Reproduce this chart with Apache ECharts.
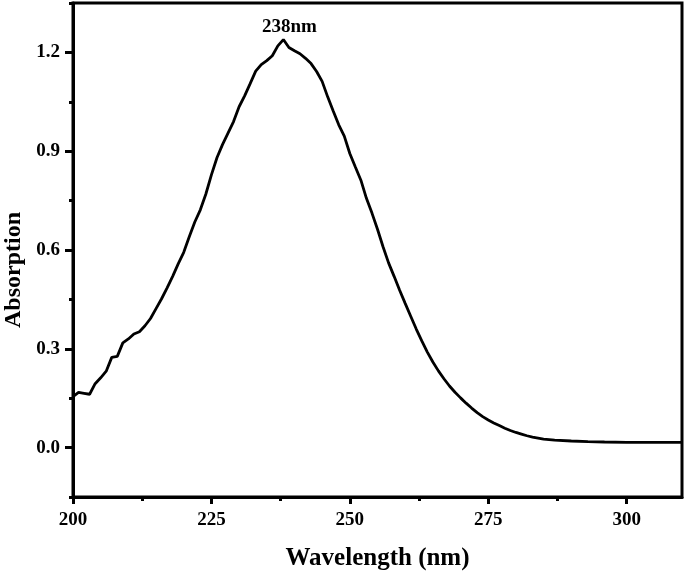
<!DOCTYPE html>
<html>
<head>
<meta charset="utf-8">
<script src="https://cdn.jsdelivr.net/npm/echarts@6/dist/echarts.min.js"></script>
<style>html,body{margin:0;padding:0;background:#fff}#c{width:685px;height:574px}</style>
</head>
<body>
<div id="c"></div>
<script>
const wavelength = [200,201,202,203,204,205,206,207,208,209,210,211,212,213,214,215,216,217,218,219,220,221,222,223,224,225,226,227,228,229,230,231,232,233,234,235,236,237,238,239,240,241,242,243,244,245,246,247,248,249,250,251,252,253,254,255,256,257,258,259,260,261,262,263,264,265,266,267,268,269,270,271,272,273,274,275,276,277,278,279,280,281,282,283,284,285,287,290,293,296,300,305,310];
const absorption = [0.155,0.168,0.165,0.162,0.194,0.212,0.232,0.274,0.277,0.318,0.330,0.345,0.352,0.370,0.392,0.422,0.452,0.485,0.520,0.558,0.593,0.640,0.685,0.722,0.770,0.828,0.880,0.920,0.955,0.990,1.035,1.068,1.105,1.143,1.163,1.175,1.190,1.220,1.239,1.215,1.205,1.196,1.182,1.166,1.142,1.112,1.065,1.022,0.980,0.946,0.893,0.852,0.812,0.757,0.712,0.663,0.610,0.561,0.520,0.478,0.438,0.399,0.360,0.324,0.290,0.260,0.233,0.209,0.187,0.168,0.151,0.135,0.120,0.106,0.094,0.084,0.075,0.067,0.059,0.052,0.046,0.041,0.036,0.032,0.029,0.026,0.023,0.020,0.018,0.017,0.016,0.016,0.016];
const xMajorTicks = [200,225,250,275,300];
const xMinorTicks = [212.5,237.5,262.5,287.5];
const yMajorTicks = [0,0.3,0.6,0.9,1.2];
const yMinorTicks = [-0.15,0.15,0.45,0.75,1.05,1.35];
const peakLabel = '238nm';
const peakIndex = absorption.indexOf(Math.max(...absorption));

const FONT = '"Liberation Serif", "Times New Roman", serif';
const chart = echarts.init(document.getElementById('c'), null, {renderer:'canvas'});
const axisBase = {
  type:'value', min:200, max:310
};
chart.setOption({
  animation:false,
  backgroundColor:'#fff',
  grid:{left:73, right:3, top:3, bottom:77, show:true, borderColor:'#000', borderWidth:3, backgroundColor:'transparent', containLabel:false, outerBoundsMode:'none'},
  xAxis:[
    Object.assign({}, axisBase, {
      position:'bottom',
      name:'Wavelength (nm)', nameLocation:'middle', nameGap:49,
      nameTextStyle:{fontFamily:FONT, fontWeight:'bold', fontSize:25, color:'#000'},
      axisLine:{show:true, onZero:false, lineStyle:{color:'#000', width:3}},
      axisTick:{show:true, length:7, lineStyle:{color:'#000', width:3}, customValues:xMajorTicks},
      axisLabel:{fontFamily:FONT, fontWeight:'bold', fontSize:19, color:'#000', margin:14, customValues:xMajorTicks},
      splitLine:{show:false}
    }),
    Object.assign({}, axisBase, {
      position:'bottom',
      axisLine:{show:false, onZero:false},
      axisTick:{show:true, length:4, lineStyle:{color:'#000', width:3}, customValues:xMinorTicks},
      axisLabel:{show:false},
      splitLine:{show:false}
    })
  ],
  yAxis:[
    {
      type:'value', min:-0.15, max:1.35, position:'left',
      name:'Absorption', nameLocation:'middle', nameGap:45,
      nameTextStyle:{fontFamily:FONT, fontWeight:'bold', fontSize:24, color:'#000', padding:[0,40,0,0]},
      axisLine:{show:true, onZero:false, lineStyle:{color:'#000', width:3}},
      axisTick:{show:true, length:8, lineStyle:{color:'#000', width:3}, customValues:yMajorTicks},
      axisLabel:{fontFamily:FONT, fontWeight:'bold', fontSize:19, color:'#000', margin:13, customValues:yMajorTicks, formatter:v=>v.toFixed(1)},
      splitLine:{show:false}
    },
    {
      type:'value', min:-0.15, max:1.35, position:'left',
      axisLine:{show:false, onZero:false},
      axisTick:{show:true, length:4, lineStyle:{color:'#000', width:3}, customValues:yMinorTicks},
      axisLabel:{show:false},
      splitLine:{show:false}
    }
  ],
  series:[{
    type:'line',
    xAxisIndex:0, yAxisIndex:0,
    data: wavelength.map((w,i)=>[w, absorption[i]]),
    showSymbol:false, symbol:'none',
    lineStyle:{color:'#000', width:2.8},
    markPoint:{
      symbol:'circle', symbolSize:0,
      data:[{coord:[wavelength[peakIndex], absorption[peakIndex]]}],
      label:{show:true, formatter:peakLabel, position:'top', distance:3, offset:[6,0],
        fontFamily:FONT, fontWeight:'bold', fontSize:19, color:'#000'}
    }
  }]
});
</script>
</body>
</html>
